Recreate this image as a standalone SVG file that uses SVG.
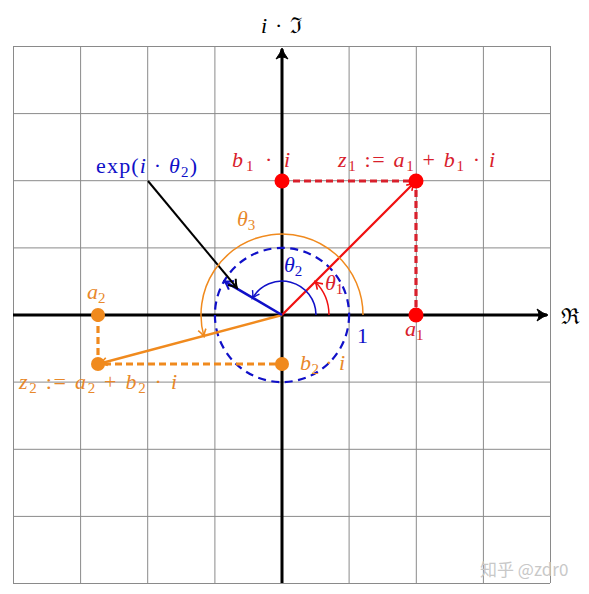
<svg xmlns="http://www.w3.org/2000/svg" width="589" height="594" viewBox="0 0 589 594">
<style>
.grid{stroke:#8a8a8a;stroke-width:1;fill:none}
.axis{stroke:#000;stroke-width:3;fill:none}
.m{font-family:"Liberation Serif","DejaVu Serif",serif;font-style:italic;font-size:22px}
.r{font-family:"Liberation Serif","DejaVu Serif",serif;font-style:normal;font-size:22px}
.sub{font-size:15px;font-style:normal}
.red{fill:#d8202c}
.org{fill:#e8882a}
.blu{fill:#1010c8}
</style>
<defs>
<marker id="ak" viewBox="-10 -7 12 14" refX="0" refY="0" markerWidth="12" markerHeight="14" markerUnits="userSpaceOnUse" orient="auto"><path d="M-8,-5 Q-3,-1 0,0 Q-3,1 -8,5" fill="none" stroke="#000" stroke-width="2"/></marker>
<marker id="ab" viewBox="-10 -7 12 14" refX="0" refY="0" markerWidth="12" markerHeight="14" markerUnits="userSpaceOnUse" orient="auto"><path d="M-8,-5 Q-3,-1 0,0 Q-3,1 -8,5" fill="none" stroke="#1010c8" stroke-width="2"/></marker>
<marker id="abt" viewBox="-10 -7 12 14" refX="0" refY="0" markerWidth="12" markerHeight="14" markerUnits="userSpaceOnUse" orient="auto"><path d="M-7,-4 Q-3,-1 0,0 Q-3,1 -7,4" fill="none" stroke="#1010c8" stroke-width="1.4"/></marker>
<marker id="ar" viewBox="-10 -7 12 14" refX="0" refY="0" markerWidth="12" markerHeight="14" markerUnits="userSpaceOnUse" orient="auto"><path d="M-7,-4 Q-3,-1 0,0 Q-3,1 -7,4" fill="none" stroke="#f01010" stroke-width="1.6"/></marker>
<marker id="ao" viewBox="-10 -7 12 14" refX="0" refY="0" markerWidth="12" markerHeight="14" markerUnits="userSpaceOnUse" orient="auto"><path d="M-7,-4 Q-3,-1 0,0 Q-3,1 -7,4" fill="none" stroke="#f08a1e" stroke-width="1.6"/></marker>
<marker id="aax" viewBox="-12 -8 14 16" refX="0" refY="0" markerWidth="14" markerHeight="16" markerUnits="userSpaceOnUse" orient="auto"><path d="M-10,-6 Q-4,-1.5 1,0 Q-4,1.5 -10,6 Q-6,0 -10,-6 Z" fill="#000" stroke="#000" stroke-width="1"/></marker>
</defs>
<rect width="589" height="594" fill="#fff"/>
<g id="grid" class="grid">
<path d="M13.5,46V583M80.6,46V583M147.7,46V583M214.9,46V583M349.1,46V583M416.3,46V583M483.4,46V583M550.5,46V583"/>
<path d="M13,46.5H550M13,113.6H550M13,180.7H550M13,247.9H550M13,382.1H550M13,449.3H550M13,516.4H550M13,583.5H550"/>
</g>
<g id="axes">
<line class="axis" x1="13" y1="315" x2="547" y2="315" marker-end="url(#aax)"/>
<line class="axis" x1="282" y1="583" x2="282" y2="49" marker-end="url(#aax)"/>
<text class="m" x="261" y="33" fill="#000" textLength="41" lengthAdjust="spacing">i<tspan font-style="normal"> · </tspan><tspan font-style="normal">ℑ</tspan></text>
<text class="r" x="561" y="324" fill="#000">ℜ</text>
</g>
<g id="unit-circle">
<circle cx="282" cy="315" r="67.1" fill="none" stroke="#1010c8" stroke-width="2.2" stroke-dasharray="8,5.5"/>
<text class="r blu" x="357" y="343">1</text>
</g>
<g id="connectors">
<path d="M282,181H416V315" fill="none" stroke="#d8202c" stroke-width="3.2" stroke-dasharray="7,4"/>
<path d="M98,315V364H282" fill="none" stroke="#f08a1e" stroke-width="3.2" stroke-dasharray="7,4"/>
<line x1="282" y1="315" x2="414" y2="183" stroke="#f01010" stroke-width="2.2" marker-end="url(#ar)"/>
<line x1="282" y1="315" x2="100" y2="363.5" stroke="#f08a1e" stroke-width="2.4" marker-end="url(#ao)"/>
<line x1="282" y1="315" x2="224.5" y2="281.3" stroke="#1010c8" stroke-width="2.6" marker-end="url(#ab)"/>
<line x1="148" y1="181" x2="237" y2="288" stroke="#000" stroke-width="2" marker-end="url(#ak)"/>
<path d="M329,315A47,47 0 0 0 315.2,281.8" fill="none" stroke="#f01010" stroke-width="1.5" marker-end="url(#ar)"/>
<path d="M316,315A34,34 0 0 0 252.5,298.2" fill="none" stroke="#1010c8" stroke-width="1.5" marker-end="url(#abt)"/>
<path d="M363,315A81,81 0 1 0 203.9,336.4" fill="none" stroke="#f08a1e" stroke-width="1.5" marker-end="url(#ao)"/>
</g>
<g id="z1">
<circle cx="282" cy="181" r="7.5" fill="#f00"/>
<circle cx="416" cy="181" r="7.5" fill="#f00"/>
<circle cx="416" cy="315" r="7.5" fill="#f00"/>
<text class="m red" x="232" y="167" textLength="58" lengthAdjust="spacing">b<tspan class="sub" dy="4">1</tspan><tspan font-style="normal" dy="-4"> · </tspan>i</text>
<text class="m red" x="338" y="167" textLength="157" lengthAdjust="spacing">z<tspan class="sub" dy="4">1</tspan><tspan font-style="normal" dy="-4"> := </tspan>a<tspan class="sub" dy="4">1</tspan><tspan font-style="normal" dy="-4"> + </tspan>b<tspan class="sub" dy="4">1</tspan><tspan font-style="normal" dy="-4"> · </tspan>i</text>
<text class="m red" x="405" y="336">a<tspan class="sub" dy="4">1</tspan></text>
<text class="m red" x="325" y="290">θ<tspan class="sub" dy="4">1</tspan></text>
</g>
<g id="z2">
<circle cx="98" cy="315" r="7" fill="#f08a1e"/>
<circle cx="98" cy="364" r="7" fill="#f08a1e"/>
<circle cx="282" cy="364" r="7" fill="#f08a1e"/>
<text class="m org" x="87" y="299">a<tspan class="sub" dy="4">2</tspan></text>
<text class="m org" x="19" y="389" textLength="158" lengthAdjust="spacing">z<tspan class="sub" dy="4">2</tspan><tspan font-style="normal" dy="-4"> := </tspan>a<tspan class="sub" dy="4">2</tspan><tspan font-style="normal" dy="-4"> + </tspan>b<tspan class="sub" dy="4">2</tspan><tspan font-style="normal" dy="-4"> · </tspan>i</text>
<text class="m org" x="300" y="370" textLength="45" lengthAdjust="spacing">b<tspan class="sub" dy="4">2</tspan><tspan font-style="normal" dy="-4"> · </tspan>i</text>
<text class="m org" x="237" y="226">θ<tspan class="sub" dy="4">3</tspan></text>
</g>
<g id="exp">
<text class="r blu" x="96" y="173" textLength="101" lengthAdjust="spacing">exp(<tspan font-style="italic">i</tspan> · <tspan font-style="italic">θ</tspan><tspan class="sub" dy="4">2</tspan><tspan dy="-4">)</tspan></text>
<text class="m blu" x="284" y="272">θ<tspan class="sub" dy="4">2</tspan></text>
</g>
<text x="480" y="576" font-family="'Noto Sans CJK SC','Noto Sans',sans-serif" font-size="17" fill="#c8c8c8">知乎 @zdr0</text>
</svg>
